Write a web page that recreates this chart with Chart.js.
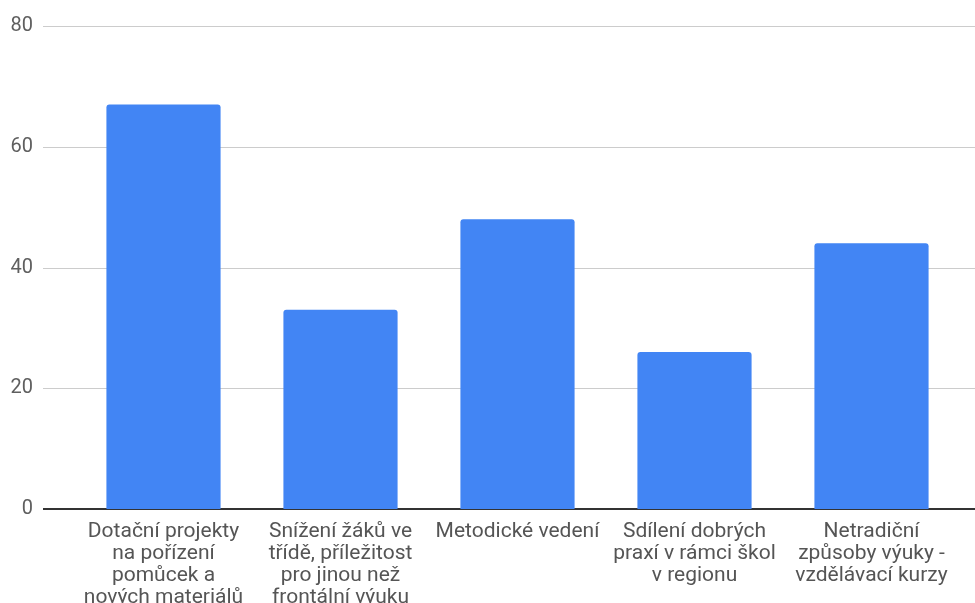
<!DOCTYPE html>
<html>
<head>
<meta charset="utf-8">
<script src="https://cdn.jsdelivr.net/npm/chart.js@4/dist/chart.umd.min.js"></script>
<style>
  html, body { margin: 0; padding: 0; background: #fff; }
  #wrap { width: 975px; height: 603px; }
</style>
</head>
<body>
<div id="wrap"><canvas id="myBarChart"></canvas></div>
<script>
const categories = [
    ['Dotační projekty', 'na pořízení', 'pomůcek a', 'nových materiálů'],
    ['Snížení žáků ve', 'třídě, příležitost', 'pro jinou než', 'frontální výuku'],
    ['Metodické vedení'],
    ['Sdílení dobrých', 'praxí v rámci škol', 'v regionu'],
    ['Netradiční', 'způsoby výuky -', 'vzdělávací kurzy']
];
const values = [67, 33, 48, 26, 44];
const yTicks = [0, 20, 40, 60, 80];

// gridlines run wider than the bar area, like the original
const gridPlugin = {
    id: 'wideGrid',
    beforeDatasetsDraw(chart) {
        const ctx = chart.ctx;
        const y = chart.scales.y;
        ctx.save();
        yTicks.forEach(t => {
            const py = Math.round(y.getPixelForValue(t));
            ctx.beginPath();
            if (t === 0) {
                ctx.strokeStyle = '#333333';
                ctx.lineWidth = 2;
                ctx.moveTo(43, py);
                ctx.lineTo(975, py);
            } else {
                ctx.strokeStyle = '#cccccc';
                ctx.lineWidth = 1;
                ctx.moveTo(43, py + 0.5);
                ctx.lineTo(975, py + 0.5);
            }
            ctx.stroke();
        });
        ctx.restore();
    }
};

const bar = document.getElementById('myBarChart');
const myChart = new Chart(bar, {
    type: 'bar',
    data: {
        labels: categories,
        datasets: [{
            data: values,
            backgroundColor: '#4285F4',
            borderRadius: { topLeft: 3, topRight: 3 },
            borderSkipped: 'bottom',
            categoryPercentage: 1,
            barPercentage: 0.645
        }]
    },
    options: {
        responsive: true,
        maintainAspectRatio: false,
        animation: false,
        layout: { padding: { top: 26, right: 15, left: 0, bottom: 0 } },
        plugins: {
            legend: { display: false },
            tooltip: { enabled: false }
        },
        scales: {
            x: {
                grid: { display: false, drawTicks: false },
                border: { display: false },
                ticks: {
                    color: '#555555',
                    font: { family: 'Roboto', size: 21, lineHeight: 1.05 },
                    padding: 12,
                    maxRotation: 0,
                    autoSkip: false
                },
                afterFit(scale) {
                    scale.height = 94;
                    scale.paddingLeft = 0;
                    scale.paddingRight = 0;
                }
            },
            y: {
                min: 0,
                max: 80,
                afterBuildTicks(scale) { scale.ticks = yTicks.map(v => ({ value: v })); },
                grid: { display: false, drawTicks: false },
                border: { display: false },
                ticks: {
                    color: '#5f5f5f',
                    font: { family: 'Roboto', size: 20 },
                    padding: 42
                },
                afterFit(scale) {
                    scale.width = 75;
                    scale.paddingTop = 0;
                    scale.paddingBottom = 0;
                }
            }
        }
    },
    plugins: [gridPlugin]
});
</script>
</body>
</html>
